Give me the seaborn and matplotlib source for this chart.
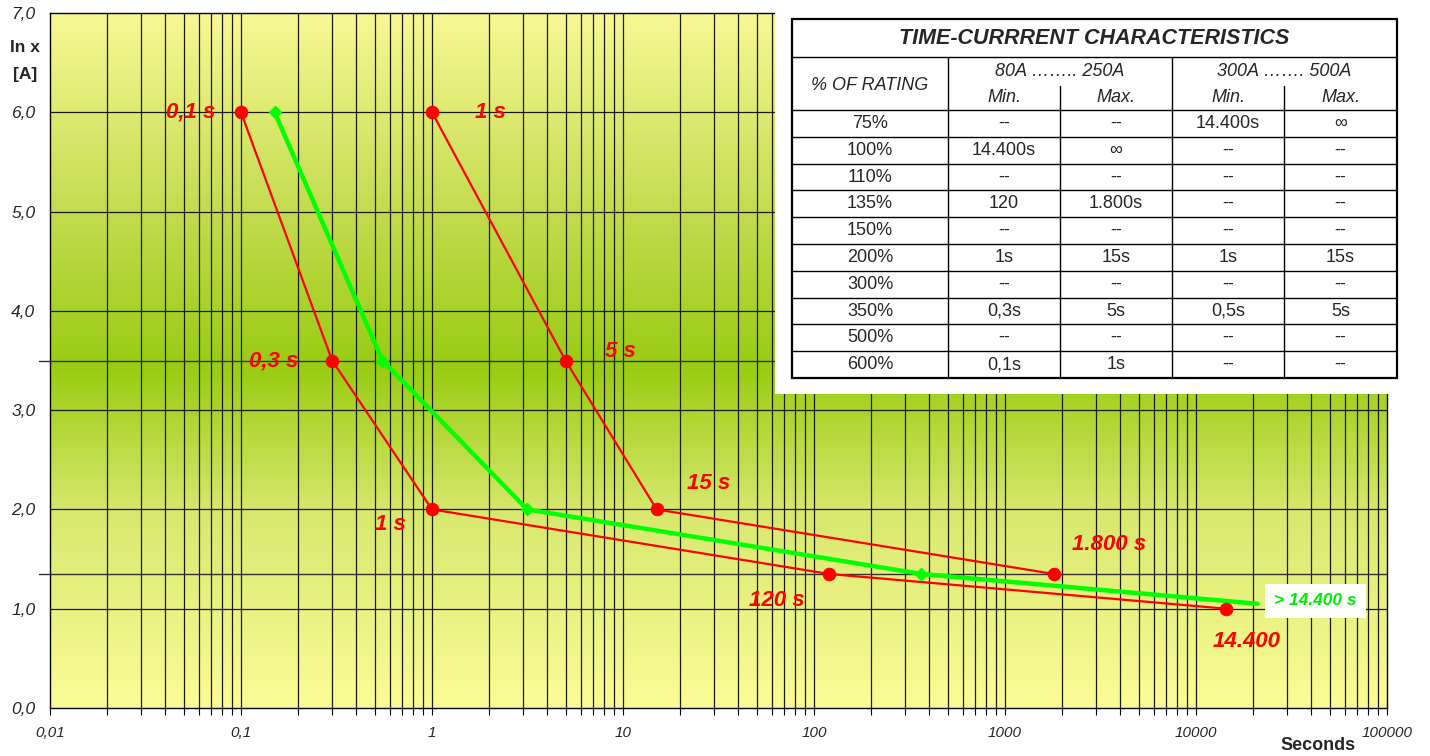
import numpy as np
import pandas as pd
import seaborn as sns
import matplotlib
matplotlib.use("Agg")
from matplotlib import pyplot as plt
from matplotlib.lines import Line2D
from matplotlib.patches import Rectangle
from matplotlib.colors import LinearSegmentedColormap

# ---- data ----
min_sec = [0.1, 0.3, 1, 120, 14400]          # 80A..250A min curve
min_in = [6.0, 3.5, 2.0, 1.35, 1.0]
max_sec = [1, 5, 15, 1800]                   # 80A..250A max curve
max_in = [6.0, 3.5, 2.0, 1.35]
grn_sec = [0.15, 0.55, 3.15, 365, 21000]     # green curve
grn_in = [6.0, 3.5, 2.0, 1.35, 1.05]

min_labels = ["0,1 s", "0,3 s", "1 s", "120 s", "14.400"]
max_labels = ["1 s", "5 s", "15 s", "1.800 s"]

xticks = [0.01, 0.1, 1, 10, 100, 1000, 10000, 100000]
xtick_labels = ["0,01", "0,1", "1", "10", "100", "1000", "10000", "100000"]
yticks = [0, 1, 2, 3, 4, 5, 6, 7]
ytick_labels = ["0,0", "1,0", "2,0", "3,0", "4,0", "5,0", "6,0", "7,0"]
ref_levels = [3.5, 1.35]

rating = ["75%", "100%", "110%", "135%", "150%", "200%", "300%", "350%", "500%", "600%"]
min_80 = ["--", "14.400s", "--", "120", "--", "1s", "--", "0,3s", "--", "0,1s"]
max_80 = ["--", "\u221e", "--", "1.800s", "--", "15s", "--", "5s", "--", "1s"]
min_300 = ["14.400s", "--", "--", "--", "--", "1s", "--", "0,5s", "--", "--"]
max_300 = ["\u221e", "--", "--", "--", "--", "15s", "--", "5s", "--", "--"]

sns.set_style("ticks")
plt.rcParams['font.family'] = ['Liberation Sans', 'DejaVu Sans']

W, H = 1430, 756
fig = plt.figure(figsize=(W / 100, H / 100), dpi=100)
fig.patch.set_facecolor("white")


def fx(x):
    return x / W


def fy(y):
    return 1 - y / H


ax = fig.add_axes([fx(50), fy(708), fx(1387) - fx(50), fy(13) - fy(708)])
ax.set_xscale("log")
ax.set_xlim(0.01, 100000)
ax.set_ylim(0, 7)

# background gradient yellow -> green -> yellow
cmap = LinearSegmentedColormap.from_list(
    "bg", [(0.0, "#fcfc96"), (0.28, "#d8e86e"), (0.49, "#99cc12"),
           (0.72, "#c4dc50"), (1.0, "#f8f894")])
grad = np.linspace(0, 1, 256).reshape(-1, 1)
ax.imshow(grad, cmap=cmap, aspect="auto", origin="lower",
          extent=[0, 1, 0, 1], transform=ax.transAxes, zorder=0)

# grid
for dec in range(-2, 5):
    for m in range(1, 10):
        v = m * 10.0 ** dec
        if v > 0.01:
            ax.axvline(v, color="#1a1a1a", lw=0.9, zorder=1)
for yv in yticks[1:-1]:
    ax.axhline(yv, color="#1a1a1a", lw=0.9, zorder=1)
for yv in ref_levels:
    ax.plot([0.0088, 100000], [yv, yv], color="#333333", lw=1.0,
            zorder=1, clip_on=False)

# curves
df_min = pd.DataFrame({"sec": min_sec, "inx": min_in})
df_max = pd.DataFrame({"sec": max_sec, "inx": max_in})
df_grn = pd.DataFrame({"sec": grn_sec, "inx": grn_in})

sns.lineplot(data=df_grn, x="sec", y="inx", sort=False, ax=ax,
             color="#00ff00", lw=3.2, zorder=3)
ax.plot(grn_sec[:-1], grn_in[:-1], ls="none", marker="D", ms=6,
        color="#00ff00", zorder=4)
sns.lineplot(data=df_min, x="sec", y="inx", sort=False, ax=ax,
             color="#ff0000", lw=1.6, marker="o", ms=9, mec="#ff0000", zorder=3)
sns.lineplot(data=df_max, x="sec", y="inx", sort=False, ax=ax,
             color="#ff0000", lw=1.6, marker="o", ms=9, mec="#ff0000", zorder=3)

# point labels (pixel offsets)
lab_style = dict(color="#ff0000", fontsize=16, fontweight="bold",
                 fontstyle="italic", zorder=5)
min_offs = [(-50, 0), (-58, -1), (-42, -15), (-52, -27), (20, -33)]
max_offs = [(58, 0), (55, 9), (52, 26), (55, 29)]
for s, v, t, o in zip(min_sec, min_in, min_labels, min_offs):
    ax.annotate(t, (s, v), xytext=o, textcoords="offset pixels",
                ha="center", va="center", **lab_style)
for s, v, t, o in zip(max_sec, max_in, max_labels, max_offs):
    ax.annotate(t, (s, v), xytext=o, textcoords="offset pixels",
                ha="center", va="center", **lab_style)
ax.annotate("> 14.400 s", (grn_sec[-1], grn_in[-1]), xytext=(58, 3),
            textcoords="offset pixels", ha="center", va="center",
            color="#00ee00", fontsize=12.5, fontweight="bold", fontstyle="italic",
            bbox=dict(boxstyle="square,pad=0.55", fc="white", ec="none"), zorder=6)

# axes cosmetics
ax.set_xticks(xticks)
ax.set_xticklabels(xtick_labels, fontstyle="italic", fontsize=11)
ax.set_yticks(yticks)
ax.set_yticklabels(ytick_labels, fontstyle="italic", fontsize=12.5)
ax.xaxis.set_minor_locator(matplotlib.ticker.LogLocator(base=10, subs=range(2, 10), numticks=20))
ax.xaxis.set_minor_formatter(matplotlib.ticker.NullFormatter())
ax.tick_params(axis="x", which="both", direction="out", length=5, width=0.8,
               color="black", pad=8)
ax.tick_params(axis="y", which="both", length=0, pad=10.5)
ax.set_xlabel("")
ax.set_ylabel("")
for sp in ax.spines.values():
    sp.set_color("black")
    sp.set_linewidth(1.0)
    sp.set_zorder(2)

fig.text(fx(25), fy(48), "In x", ha="center", va="center", fontsize=12.5, fontweight="bold")
fig.text(fx(25), fy(74), "[A]", ha="center", va="center", fontsize=12.5, fontweight="bold")
fig.text(fx(1318), fy(745), "Seconds", ha="center", va="center", fontsize=13, fontweight="bold")

# ---- table in the upper right ----
fig.add_artist(Rectangle((fx(775), fy(394)), fx(W) - fx(775), fy(0) - fy(394),
                         transform=fig.transFigure, fc="white", ec="none", zorder=2))


def hline(y, x0, x1, lw=1.0):
    fig.add_artist(Line2D([fx(x0), fx(x1)], [fy(y), fy(y)], color="black",
                          lw=lw, zorder=3, transform=fig.transFigure))


def vline(x, y0, y1, lw=1.0):
    fig.add_artist(Line2D([fx(x), fx(x)], [fy(y0), fy(y1)], color="black",
                          lw=lw, zorder=3, transform=fig.transFigure))


tx0, tx1, ty0, ty1 = 792, 1397, 19, 378
cols = [792, 948, 1060, 1172, 1284, 1397]
row_top = 110
row_h = (ty1 - row_top) / len(rating)

hline(57, tx0, tx1)
for i in range(len(rating)):
    hline(row_top + i * row_h, tx0, tx1)
vline(cols[1], 57, ty1)
vline(cols[3], 57, ty1)
vline(cols[2], 86, ty1)
vline(cols[4], 86, ty1)
fig.add_artist(Rectangle((fx(tx0), fy(ty1)), fx(tx1) - fx(tx0), fy(ty0) - fy(ty1),
                         transform=fig.transFigure, fc="none", ec="black", lw=1.6, zorder=3))

txt = dict(ha="center", va="center", zorder=4, fontsize=13)
fig.text(fx((tx0 + tx1) / 2), fy(39), "TIME-CURRRENT CHARACTERISTICS",
         fontweight="bold", fontstyle="italic", **dict(txt, fontsize=15.5))
fig.text(fx((cols[0] + cols[1]) / 2), fy(85), "% OF RATING", fontstyle="italic", **txt)
fig.text(fx((cols[1] + cols[3]) / 2), fy(72), "80A …….. 250A", fontstyle="italic", **txt)
fig.text(fx((cols[3] + cols[5]) / 2), fy(72), "300A ……. 500A", fontstyle="italic", **txt)
for c in range(4):
    fig.text(fx((cols[c + 1] + cols[c + 2]) / 2), fy(98), ["Min.", "Max."][c % 2],
             fontstyle="italic", **txt)

for i, vals in enumerate(zip(rating, min_80, max_80, min_300, max_300)):
    yc = row_top + (i + 0.5) * row_h
    for c, v in enumerate(vals):
        fig.text(fx((cols[c] + cols[c + 1]) / 2), fy(yc), v, **txt)

plt.savefig("out.png", dpi=100)
